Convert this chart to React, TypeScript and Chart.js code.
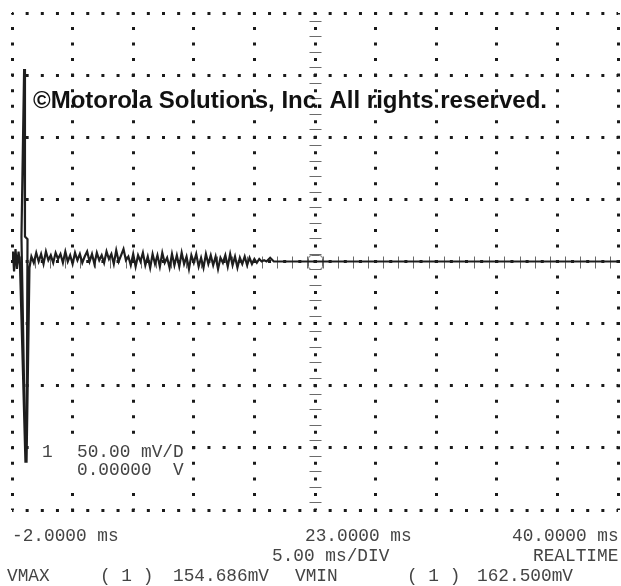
import React, { useEffect, useRef } from "react";
import { Chart, registerables } from "chart.js";

Chart.register(...registerables);

// Axis ranges (oscilloscope: 10 x 5 ms divisions, 8 x 50 mV divisions)
const X_MIN_MS = -2;
const X_MAX_MS = 48;
const X_DIV_MS = 5;
const Y_MIN_MV = -200;
const Y_MAX_MV = 200;
const Y_DIV_MV = 50;

// Trace: start of capture incl. the spike
const headTimeMs = [-2.0, -1.92, -1.83, -1.71, -1.59, -1.46, -1.34, -0.89, -1.22, -1.0, -0.93, -0.72, -0.8, -0.56];
const headMv = [0, 8, -8, 10, -6, 8, -3, -162, 20, 155, 20, 18, -162, -5];

// Trace: ringing/noise sampled every 0.2 ms from -0.4 ms
const NOISE_START_MS = -0.4;
const NOISE_STEP_MS = 0.2;
const noiseMv = [
  4, -1, 7, 0, 6, -2, 8, 1, 5, -1,
  7, 2, 6, -1, 8, 0, 5, -2, 7, 1,
  6, -1, 4, 8, 0, 6, -2, 7, 1, 5,
  -1, 8, 2, 6, -2, 9, 0, 5, 10, 1,
  4, -3, 6, -4, 5, 0, 7, -3, 4, -5,
  6, -2, 5, -4, 7, -1, 3, -5, 6, -3,
  5, -4, 7, -2, 4, -6, 5, -1, 6, -4,
  3, -5, 6, -2, 5, -3, 4, -6, 3, -1,
  5, -4, 6, -3, 4, -5, 3, -2, 4, -3,
  3, -2, 2, -1, 2, 0, 1, 0,
];

// Trace: settled tail
const tailTimeMs = [19.3, 19.6, 48];
const tailMv = [3, 0, 0];

// Readout texts
const timeLabels = ["-2.0000 ms", "23.0000 ms", "40.0000 ms"];
const timebaseLabel = "5.00 ms/DIV";
const modeLabel = "REALTIME";
const measureLabels = ["VMAX", "( 1 )", "154.686mV", "VMIN", "( 1 )", "162.500mV"];
const channelLabels = ["1", "50.00 mV/D", "0.00000", "V"];
const copyright = "©Motorola Solutions, Inc. All rights reserved.";

const MONO = '"Liberation Mono", "Courier New", monospace';

const scopePlugin = {
  id: "scopeDecor",
  beforeDatasetsDraw(chart: any) {
    const { ctx, scales } = chart;
    const x = scales.x;
    const y = scales.y;
    ctx.save();
    const xc = Math.round(x.getPixelForValue((X_MIN_MS + X_MAX_MS) / 2)) + 0.5;
    const yc = Math.round(y.getPixelForValue(0)) + 0.5;
    ctx.strokeStyle = "#6a6a6a";
    ctx.lineWidth = 1;
    ctx.beginPath();
    for (let v = Y_MIN_MV + Y_DIV_MV / 8; v < Y_MAX_MV; v += Y_DIV_MV / 4) {
      const py = Math.round(y.getPixelForValue(v)) + 0.5;
      ctx.moveTo(xc - 6, py);
      ctx.lineTo(xc + 6, py);
    }
    for (let t = X_MIN_MS + X_DIV_MS / 8; t < X_MAX_MS; t += X_DIV_MS / 4) {
      const px = Math.round(x.getPixelForValue(t)) + 0.5;
      ctx.moveTo(px, yc - 6);
      ctx.lineTo(px, yc + 6);
    }
    ctx.stroke();
    // ground marker
    ctx.beginPath();
    (ctx as any).roundRect(xc - 7, yc - 7, 14, 14, 3);
    ctx.stroke();

    // channel readout box
    ctx.fillStyle = "#ffffff";
    ctx.fillRect(31, 440, 158, 46);
    ctx.fillStyle = "#444";
    ctx.font = `17.8px ${MONO}`;
    ctx.textBaseline = "alphabetic";
    ctx.textAlign = "left";
    ctx.fillText(channelLabels[0], 42, 457);
    ctx.fillText(channelLabels[1], 77, 457);
    ctx.fillText(channelLabels[2], 77, 475);
    ctx.fillText(channelLabels[3], 173, 475);

    // copyright
    ctx.fillStyle = "#111";
    ctx.font = 'bold 24.5px "Liberation Sans", Arial, sans-serif';
    ctx.fillText(copyright, 33, 108, 514);
    ctx.restore();
  },
  afterDraw(chart: any) {
    const { ctx } = chart;
    ctx.save();
    ctx.fillStyle = "#444";
    ctx.font = `17.8px ${MONO}`;
    ctx.textBaseline = "alphabetic";
    ctx.textAlign = "left";
    ctx.fillText(timeLabels[0], 12, 541);
    ctx.fillText(timeLabels[1], 305, 541);
    ctx.fillText(timeLabels[2], 512, 541);
    ctx.fillText(timebaseLabel, 272, 561);
    ctx.fillText(modeLabel, 533, 561);
    const mx = [7, 100, 173, 295, 407, 477];
    measureLabels.forEach((s, i) => ctx.fillText(s, mx[i], 581));
    ctx.restore();
  },
};

export default function App() {
  const ref = useRef<HTMLCanvasElement | null>(null);
  useEffect(() => {
    if (!ref.current) return;
    const pts: { x: number; y: number }[] = [];
    headTimeMs.forEach((t, i) => pts.push({ x: t, y: headMv[i] }));
    noiseMv.forEach((v, i) => pts.push({ x: NOISE_START_MS + i * NOISE_STEP_MS, y: v }));
    tailTimeMs.forEach((t, i) => pts.push({ x: t, y: tailMv[i] }));

    const dotX = 15.15;
    const dotY = 15.53;
    const chart = new Chart(ref.current, {
      type: "line",
      data: {
        datasets: [
          {
            data: pts,
            borderColor: "#1e1e1e",
            borderWidth: 2.2,
            pointRadius: 0,
            tension: 0,
            fill: false,
          },
        ],
      },
      options: {
        responsive: false,
        animation: false,
        layout: { padding: { left: 12, top: 13, right: 3, bottom: 76 } },
        plugins: { legend: { display: false }, tooltip: { enabled: false } },
        scales: {
          x: {
            type: "linear",
            min: X_MIN_MS,
            max: X_MAX_MS,
            ticks: { display: false, stepSize: X_DIV_MS },
            grid: { color: "#1a1a1a", lineWidth: 3, drawTicks: false },
            border: { display: false, dash: [3, dotY - 3], dashOffset: 1.5 },
          },
          y: {
            type: "linear",
            min: Y_MIN_MV,
            max: Y_MAX_MV,
            ticks: { display: false, stepSize: Y_DIV_MV },
            grid: { color: "#1a1a1a", lineWidth: 3, drawTicks: false },
            border: { display: false, dash: [3, dotX - 3], dashOffset: 1.5 },
          },
        },
      },
      plugins: [scopePlugin],
    });
    return () => chart.destroy();
  }, []);
  return (
    <div style={{ position: "fixed", left: 0, top: 0, width: 621, height: 586, background: "#fff" }}>
      <canvas ref={ref} width={621} height={586} style={{ display: "block" }} />
    </div>
  );
}
